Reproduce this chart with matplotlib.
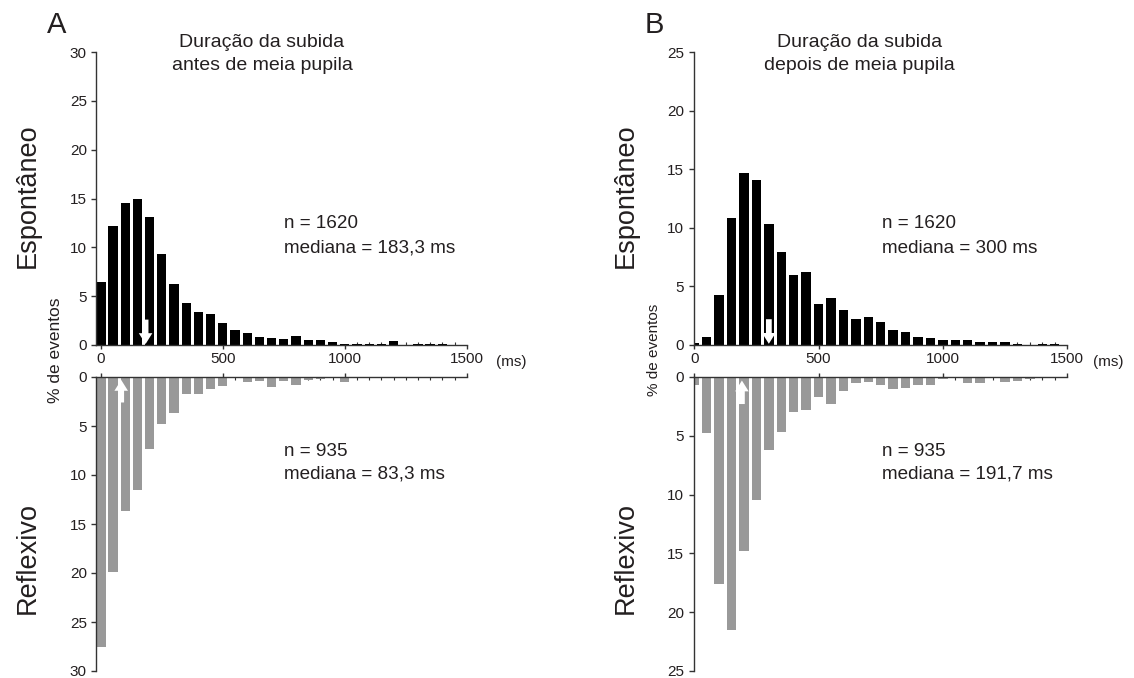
import numpy as np
import matplotlib
matplotlib.use("Agg")
import matplotlib.pyplot as plt
from matplotlib.ticker import MultipleLocator

plt.rcParams["font.family"] = ["Liberation Sans", "DejaVu Sans"]

# bin centres (ms), 50 ms bins
bins_ms = np.arange(0, 1501, 50)

# A: rise duration before half pupil (% of events)
esp_a = [6.5, 12.2, 14.5, 15.0, 13.1, 9.35, 6.25, 4.3, 3.4, 3.2, 2.3, 1.5, 1.2, 0.85,
         0.75, 0.6, 0.9, 0.5, 0.5, 0.35, 0.15, 0.15, 0.15, 0.15, 0.4, 0.0, 0.15, 0.15,
         0.15, 0.0, 0.0]
refl_a = [27.5, 19.9, 13.65, 11.5, 7.3, 4.8, 3.7, 1.7, 1.7, 1.25, 0.9, 0.0, 0.5, 0.4,
          1.05, 0.4, 0.85, 0.3, 0.2, 0.0, 0.55, 0.0, 0.0, 0.0, 0.0, 0.0, 0.0, 0.0,
          0.0, 0.0, 0.0]

# B: rise duration after half pupil (% of events)
esp_b = [0.15, 0.65, 4.3, 10.8, 14.7, 14.1, 10.3, 7.9, 5.95, 6.2, 3.5, 4.05, 2.95, 2.25,
         2.35, 1.95, 1.3, 1.1, 0.7, 0.6, 0.4, 0.4, 0.45, 0.25, 0.25, 0.25, 0.1, 0.0,
         0.1, 0.1, 0.0]
refl_b = [0.65, 4.8, 17.6, 21.5, 14.8, 10.45, 6.2, 4.7, 3.0, 2.8, 1.7, 2.3, 1.2, 0.55,
          0.45, 0.7, 1.0, 0.9, 0.7, 0.7, 0.15, 0.05, 0.55, 0.55, 0.0, 0.4, 0.35, 0.15,
          0.0, 0.0, 0.0]

n_esp, n_refl = 1620, 935
med_esp_a, med_refl_a = 183.3, 83.3
med_esp_b, med_refl_b = 300.0, 191.7

TXT = "#231f20"
GRAY = "#999999"
W, H = 1134, 678


def fx(px):
    return px / W


def fy(py):
    return 1 - py / H


def style_axis(ax, top, ymax, xmin):
    ax.set_xlim(xmin, 1500)
    ax.set_ylim(0, ymax)
    ax.set_yticks(np.arange(0, ymax + 1, 5))
    ax.set_xticks([0, 500, 1000, 1500])
    ax.xaxis.set_minor_locator(MultipleLocator(50))
    for s in ax.spines.values():
        s.set_color("#333333")
        s.set_linewidth(1.0)
    ax.spines["right"].set_visible(False)
    ax.tick_params(axis="y", direction="out", length=3.6, width=1, colors="#333333",
                   labelsize=11, labelcolor=TXT, pad=3)
    ax.tick_params(axis="x", which="major", direction="out", length=3, width=1,
                   colors="#333333", labelsize=11, labelcolor=TXT, pad=2)
    ax.tick_params(axis="x", which="minor", direction="in", length=2, width=0.8,
                   colors="#333333")
    if top:
        ax.spines["top"].set_visible(False)
    else:
        ax.spines["bottom"].set_visible(False)
        ax.xaxis.tick_top()
        ax.tick_params(axis="x", which="both", labeltop=False, labelbottom=False)
        ax.invert_yaxis()
    ax.set_facecolor("none")


def arrow(ax, x, y_tip, y_tail):
    ax.annotate("", xy=(x, y_tip), xytext=(x, y_tail),
                arrowprops=dict(arrowstyle="simple,head_width=0.75,head_length=0.6,tail_width=0.32",
                                fc="white", ec="white", lw=0, shrinkA=0, shrinkB=0,
                                mutation_scale=13),
                zorder=5)


fig = plt.figure(figsize=(W / 100, H / 100), dpi=100)

panels = [
    dict(left=96, right=466.7, ymax=30, xmin=-20, esp=esp_a, refl=refl_a,
         med_e=med_esp_a, med_r=med_refl_a, tail_e=2.6, tail_r=2.6,
         letter="A", title="Duração da subida\nantes de meia pupila",
         med_e_txt="183,3", med_r_txt="83,3", ylab_fs=12.5),
    dict(left=693.5, right=1067.2, ymax=25, xmin=-3, esp=esp_b, refl=refl_b,
         med_e=med_esp_b, med_r=med_refl_b, tail_e=2.2, tail_r=2.3,
         letter="B", title="Duração da subida\ndepois de meia pupila",
         med_e_txt="300", med_r_txt="191,7", ylab_fs=11),
]

for p in panels:
    l, r = fx(p["left"]), fx(p["right"])
    ax_t = fig.add_axes([l, fy(345), r - l, fy(52) - fy(345)])
    ax_b = fig.add_axes([l, fy(671), r - l, fy(377) - fy(671)])

    ax_t.bar(bins_ms, p["esp"], width=38, color="black", zorder=2)
    ax_b.bar(bins_ms, p["refl"], width=38, color=GRAY, zorder=2)
    style_axis(ax_t, True, p["ymax"], p["xmin"])
    style_axis(ax_b, False, p["ymax"], p["xmin"])

    arrow(ax_t, p["med_e"], 0.1, p["tail_e"])
    arrow(ax_b, p["med_r"], 0.3, p["tail_r"])

    x0 = p["left"]
    # statistics text
    fig.text(fx(x0 + 188), fy(224), f"n = {n_esp}", fontsize=13.6, color=TXT, va="center")
    fig.text(fx(x0 + 188), fy(248), f"mediana = {p['med_e_txt']} ms", fontsize=13.6,
             color=TXT, va="center")
    fig.text(fx(x0 + 188), fy(451), f"n = {n_refl}", fontsize=13.6, color=TXT, va="center")
    fig.text(fx(x0 + 188), fy(474), f"mediana = {p['med_r_txt']} ms", fontsize=13.6,
             color=TXT, va="center")

    fig.text(fx(x0 + 166), fy(54), p["title"], fontsize=14, color=TXT, ha="center",
             va="center", linespacing=1.45)
    fig.text(fx(x0 - 39), fy(25), p["letter"], fontsize=21, color=TXT, ha="center",
             va="center")
    fig.text(fx(x0 + 415), fy(362), "(ms)", fontsize=11, color=TXT, ha="center",
             va="center")
    fig.text(fx(x0 - 68), fy(196), "Espontâneo", fontsize=19.5, color=TXT, rotation=90,
             ha="center", va="center")
    fig.text(fx(x0 - 68), fy(558), "Reflexivo", fontsize=19.5, color=TXT, rotation=90,
             ha="center", va="center")
    fig.text(fx(x0 - 40), fy(350), "% de eventos", fontsize=p["ylab_fs"], color=TXT,
             rotation=90, ha="center", va="center")

fig.savefig("out.png", dpi=100)
